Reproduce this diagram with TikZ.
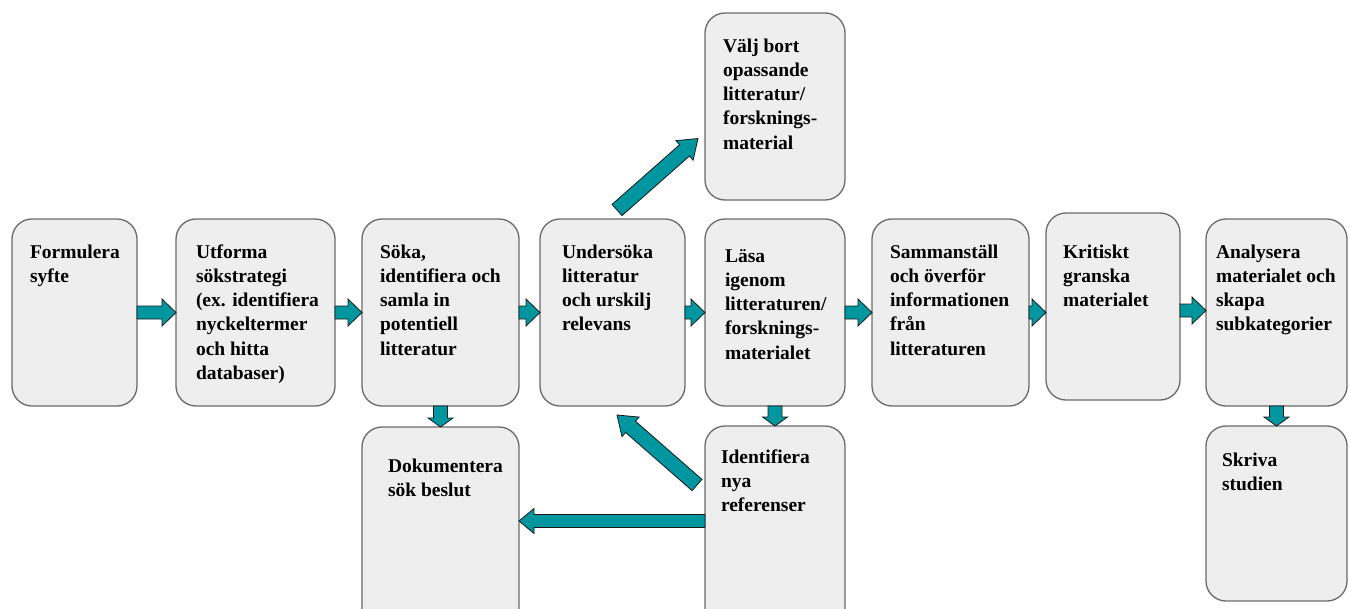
\documentclass[tikz,border=0pt]{standalone}
\usepackage{fontspec}
\setmainfont{Liberation Serif}
\usetikzlibrary{calc}
\definecolor{boxfill}{HTML}{EEEEEE}
\definecolor{boxline}{HTML}{6A6A6A}
\definecolor{teal}{RGB}{0,150,160}
\definecolor{arrline}{HTML}{1A1A1A}
\tikzset{
  box/.style={draw=boxline, fill=boxfill, line width=1.3pt, rounded corners=20pt, rectangle, inner sep=0pt, outer sep=0pt},
  txt/.style={anchor=base west, inner sep=0pt, outer sep=0pt, text=black, font=\fontsize{19.5}{24.3}\selectfont\bfseries},
  blockarr/.style={fill=teal, draw=arrline, line width=0.8pt, line join=miter}
}
% \bx{name}{x1}{y1}{x2}{y2}
\newcommand{\bx}[5]{\node[box, minimum width={(#4-#2)*1pt}, minimum height={(#5-#3)*1pt}] (#1) at ({(#2+#4)/2},{(#3+#5)/2}) {};}
% \blockarrow{start}{end}{shaft half}{head half}{head length}
\newcommand{\blockarrow}[5]{%
  \coordinate (bA) at (#1);
  \coordinate (bB) at (#2);
  \coordinate (bH) at ($(bB)!#5pt!(bA)$);
  \draw[blockarr] ($(bA)!#3pt!90:(bB)$) -- ($(bH)!#3pt!-90:(bA)$) -- ($(bH)!#4pt!-90:(bA)$) -- (bB)
     -- ($(bH)!#4pt!90:(bA)$) -- ($(bH)!#3pt!90:(bA)$) -- ($(bA)!#3pt!-90:(bB)$) -- cycle;
}
\begin{document}
\begin{tikzpicture}[x=1pt,y=-1pt]
\useasboundingbox (0,0) rectangle (1349,608);
\clip (0,0) rectangle (1349,608);
% boxes
\bx{f}{12}{219}{137}{406}
\bx{u}{176}{219}{335}{406}
\bx{s}{362}{219}{519}{406}
\bx{un}{540}{219}{685}{406}
\bx{v}{705}{13}{845}{200}
\bx{l}{705}{219}{845}{406}
\bx{sa}{872}{219}{1029}{406}
\bx{k}{1046}{213}{1180}{400}
\bx{a}{1206}{219}{1347}{406}
\bx{sk}{1206}{426}{1347}{601}
\bx{d}{362}{427}{519}{660}
\bx{id}{705}{426}{845}{660}
% texts
\node[txt] (ft) at (30,258) {\parbox[t]{120pt}{Formulera\\syfte}};
\node[txt] (ut) at (196,258) {\parbox[t]{140pt}{Utforma\\sökstrategi\\(ex. identifiera\\nyckeltermer\\och hitta\\databaser)}};
\node[txt] (st) at (380,258) {\parbox[t]{140pt}{Söka,\\identifiera och\\samla in\\potentiell\\litteratur}};
\node[txt] (unt) at (562,258) {\parbox[t]{130pt}{Undersöka\\litteratur\\och urskilj\\relevans}};
\node[txt] (vt) at (723,52) {\parbox[t]{120pt}{Välj bort\\opassande\\litteratur/\\forsknings-\\material}};
\node[txt] (lt) at (725,262) {\parbox[t]{120pt}{Läsa\\igenom\\litteraturen/\\forsknings-\\materialet}};
\node[txt] (sat) at (890,258) {\parbox[t]{140pt}{Sammanställ\\och överför\\informationen\\från\\litteraturen}};
\node[txt] (kt) at (1063,258) {\parbox[t]{120pt}{Kritiskt\\granska\\materialet}};
\node[txt] (at) at (1216,258) {\parbox[t]{130pt}{Analysera\\materialet och\\skapa\\subkategorier}};
\node[txt] (skt) at (1222,466) {\parbox[t]{120pt}{Skriva\\studien}};
\node[txt] (dt) at (388,472) {\parbox[t]{130pt}{Dokumentera\\sök beslut}};
\node[txt] (idt) at (721,463) {\parbox[t]{120pt}{Identifiera\\nya\\referenser}};
% arrows
\blockarrow{f.east}{u.west}{6.5}{13.5}{14}
\blockarrow{u.east}{s.west}{6.5}{13.5}{14}
\blockarrow{s.east}{un.west}{6.5}{13.5}{14}
\blockarrow{un.east}{l.west}{6.5}{13.5}{14}
\blockarrow{l.east}{sa.west}{6.5}{13.5}{14}
\blockarrow{sa.east}{sa.east -| k.west}{6.5}{13.5}{14}
\coordinate (k7) at ($(k.east)+(0,4)$);
\blockarrow{k7}{k7 -| a.west}{6.5}{13.5}{14}
\blockarrow{s.south}{d.north}{7}{12.5}{9}
\blockarrow{l.south}{id.north}{7}{12.5}{9}
\blockarrow{a.south}{sk.north}{7}{12.5}{9}
\coordinate (d1s) at ($(un.north)+(4.5,-9)$);
\coordinate (d1e) at ($(v.west)+(-7,32)$);
\blockarrow{d1s}{d1e}{7.5}{13}{18}
\coordinate (d2s) at ($(id.north west)+(-8,59)$);
\coordinate (d2e) at ($(un.south)+(4.5,9)$);
\blockarrow{d2s}{d2e}{7.5}{13}{18}
\coordinate (h1) at ($(id.north west)+(0,95)$);
\coordinate (h2) at (h1 -| d.east);
\blockarrow{h1}{h2}{6.5}{12.5}{15}
\end{tikzpicture}
\end{document}
